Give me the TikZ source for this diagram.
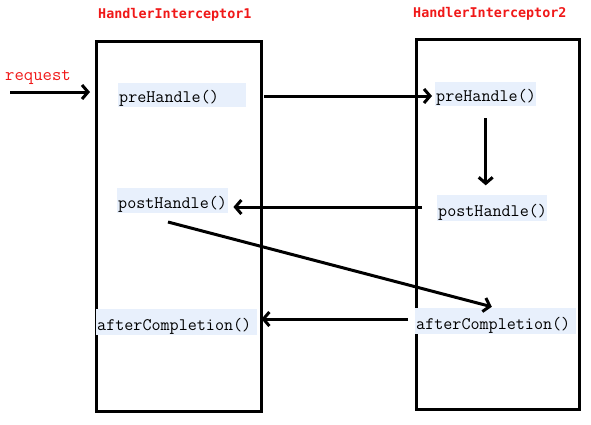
\documentclass[tikz,border=0pt]{standalone}
\usepackage{fontspec}
\newfontfamily\titlefont{DejaVu Sans Mono}
\usetikzlibrary{arrows.meta}
\definecolor{methbg}{HTML}{E8F0FC}
\definecolor{titlered}{HTML}{F01818}
\tikzset{
  lane/.style={draw=black, line width=3pt, anchor=north west, inner sep=0pt},
  meth/.style={fill=methbg, anchor=west, inner xsep=1pt, inner ysep=0pt, align=left,
    text depth=4.5pt, font=\fontsize{17.6pt}{19pt}\selectfont\ttfamily, text=black},
  ttl/.style={font=\titlefont\bfseries\fontsize{13.4pt}{15pt}\selectfont, text=titlered, anchor=west, inner sep=0pt},
  flow/.style={line width=3pt, -{Straight Barb[length=6pt,width=14pt,line width=3pt]}}
}
\begin{document}
\begin{tikzpicture}[x=1pt,y=-1pt]
\useasboundingbox (0,0) rectangle (591,424);
% lanes
\node[lane, minimum width=165pt, minimum height=370pt] (box1) at (95,40) {};
\node[lane, minimum width=163pt, minimum height=370pt] (box2) at (415,38) {};
% titles
\node[ttl] (t1) at (98,15) {HandlerInterceptor1};
\node[ttl] (t2) at (413,14) {HandlerInterceptor2};
\node[font=\ttfamily\fontsize{18.2pt}{20pt}\selectfont, text=titlered, anchor=west, inner sep=0pt] (reqlbl) at (5,77) {request};
% methods
\node[meth, text width=126pt, text height=19.5pt] (pre1) at (118,95) {preHandle()};
\node[meth, text width=99pt, text height=19.5pt] (pre2) at (435,94) {preHandle()};
\node[meth, text width=108pt, text height=21.5pt] (post2) at (437,207.5) {postHandle()};
\node[meth, text width=109pt, text height=20.5pt] (post1) at (117,200.5) {postHandle()};
\node[meth, text width=159pt, text height=21.5pt] (after1) at (96,322) {afterCompletion()};
\node[meth, text width=159pt, text height=21.5pt] (after2) at (415,321) {afterCompletion()};
% connectors
\coordinate (req) at (10,92);
\draw[flow, shorten >=5pt] (req) -- (req -| box1.west);
\coordinate (p1e) at ([yshift=-1pt]pre1.east);
\draw[flow, shorten <=18pt, shorten >=3pt] (p1e) -- (p1e -| pre2.west);
\draw[flow, shorten <=12pt, shorten >=9pt] (pre2.south) -- (pre2.south |- post2.north);
\coordinate (p2w) at ([yshift=0.5pt]post2.west);
\draw[flow, shorten <=15pt, shorten >=5pt] (p2w) -- (p2w -| post1.east);
\coordinate (diag) at (168,222);
\draw[flow, shorten >=4pt] (diag) -- (after2.north);
\coordinate (a2w) at ([yshift=2pt]after2.west);
\draw[flow, shorten <=7pt, shorten >=4pt] (a2w) -- (a2w -| after1.east);
\end{tikzpicture}
\end{document}
